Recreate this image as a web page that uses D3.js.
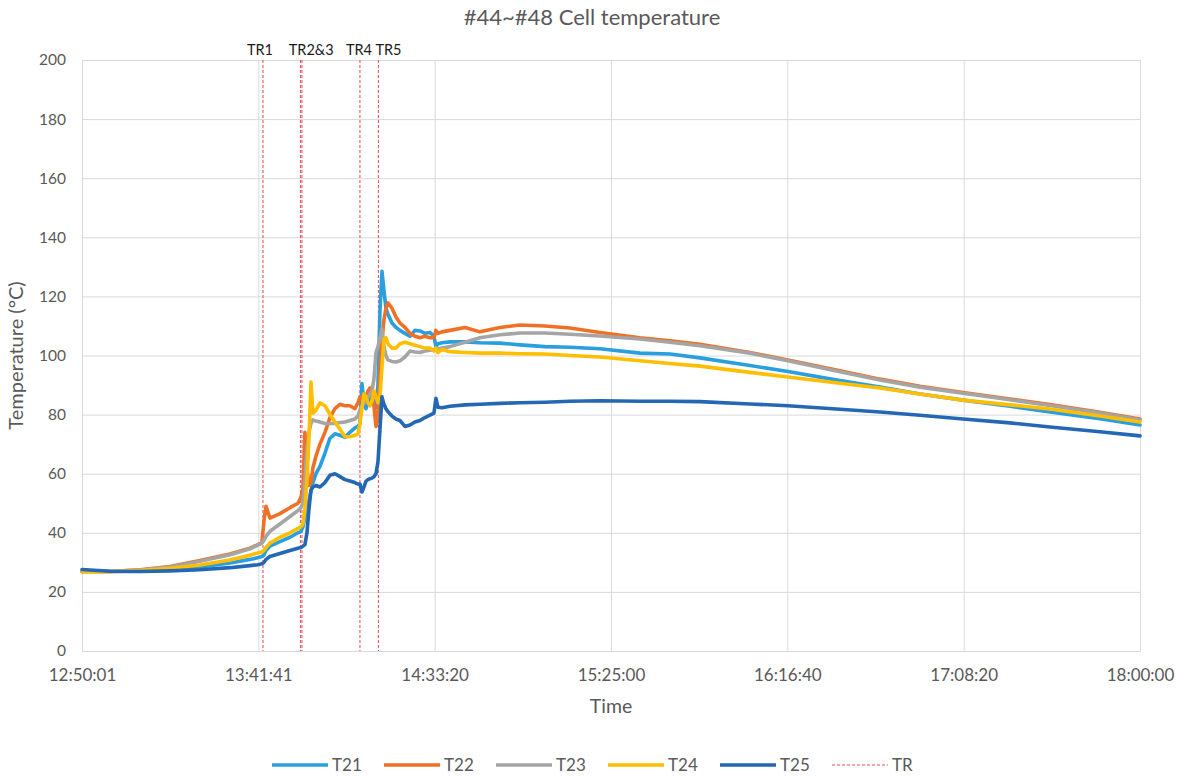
<!DOCTYPE html>
<html>
<head>
<meta charset="utf-8">
<script src="https://cdn.jsdelivr.net/npm/d3@7"></script>
<style>
  html, body { margin: 0; padding: 0; background: #ffffff; }
  svg { display: block; font-family: Lato, "Open Sans", sans-serif; }
</style>
</head>
<body>
<svg id="chart" width="1185" height="776"></svg>
<script>
// Sample times (clock time) shared by all channels
const times = [
  "12:50:01","12:58:12","13:07:00","13:15:47","13:24:34","13:33:22","13:39:13","13:41:34",
  "13:42:44","13:43:20","13:43:55","13:45:05","13:48:01","13:50:57","13:53:17","13:54:10",
  "13:54:45","13:55:20","13:55:56","13:56:31","13:57:06","13:57:41","13:58:34","13:59:44",
  "14:01:12","14:02:40","14:04:08","14:05:36","14:07:04","14:08:31","14:09:59","14:10:52",
  "14:11:27","14:12:02","14:12:38","14:13:13","14:13:48","14:14:23","14:14:58","14:15:33",
  "14:16:09","14:16:44","14:17:19","14:17:54","14:18:29","14:19:04","14:19:39","14:20:50",
  "14:22:00","14:23:10","14:24:38","14:26:06","14:27:34","14:29:02","14:30:30","14:31:58",
  "14:33:08","14:33:43","14:34:18","14:35:29","14:37:49","14:42:13","14:46:37","14:52:28",
  "14:58:20","15:05:40","15:12:59","15:21:46","15:33:30","15:42:17","15:51:04","16:05:43",
  "16:16:51","16:32:06","16:43:49","16:55:32","17:08:08","17:21:54","17:33:37","17:48:16",
  "18:00:00"
];

// Cell temperatures (°C)
const T21 = [
  27, 26.9, 27, 27.6, 28.4, 29.8, 31, 31.6,
  32, 32.5, 34, 35.5, 37, 38.5, 40, 40.5,
  42, 45, 48, 51, 54, 57, 60, 62.5,
  67, 72, 73.5, 73, 72.3, 74, 75.5, 76,
  77, 90.5, 84, 82, 84, 86, 86.5, 84,
  82.5, 90, 115, 128.5, 122, 116, 114, 111,
  109.5, 108.5, 107.5, 106.5, 108.5, 108.3, 107.5, 107.8,
  106.5, 103, 104, 104.3, 104.6, 104.6, 104.3, 104.2,
  103.6, 103, 102.8, 102.3, 100.8, 100.5, 99.2, 96.6,
  94.6, 91.5, 89.3, 87, 84.9, 82.8, 80.9, 78.6,
  76.5
];
const T22 = [
  26.8, 26.9, 27.5, 28.6, 30.6, 32.8, 34.8, 36,
  36.8, 44, 49, 45, 46.5, 48.5, 50, 52,
  55, 74, 62, 56, 57, 62, 66, 70,
  74, 79, 82, 83.5, 83, 83, 82, 84,
  86, 85, 87, 86, 88, 89, 86, 83,
  76, 80, 95, 105, 112, 116, 117.8, 116,
  113, 111, 109.5, 107.5, 106.5, 106, 106.5, 106,
  106, 108.5, 107.5, 108, 108.5, 109.5, 108, 109.5,
  110.3, 110, 109.3, 107.8, 106, 105, 103.8, 101,
  98.5, 94.8, 92, 89.6, 87.5, 85.3, 83.4, 80.8,
  78.5
];
const T23 = [
  27, 27, 27.4, 28.4, 30.4, 32.6, 34.6, 35.8,
  36.5, 37.5, 38.8, 40.5, 43, 45.5, 47.5, 48.5,
  50, 58, 68, 74, 77, 78.2, 77.8, 77.5,
  77, 77, 77, 77.3, 77.5, 78, 78.5, 79.5,
  81.5, 83, 84, 85, 86, 87, 88, 92,
  101, 103, 106, 109, 103, 100, 98.5, 98,
  97.8, 98.2, 99.5, 101.5, 101.2, 101, 101.5, 101.8,
  102, 102, 102.2, 102.5, 103, 104.5, 106, 107,
  107.6, 107.6, 107.2, 106.6, 105.6, 104.5, 103.3, 100.8,
  98.2, 94.5, 91.7, 89.3, 87.2, 85, 83.1, 80.5,
  78.2
];
const T24 = [
  26.8, 26.8, 27.2, 28, 29.1, 30.8, 32.4, 33.2,
  33.5, 34, 35, 36.5, 38.5, 40, 41.5, 42,
  43, 48, 58, 72, 91, 80.5, 81.5, 84,
  83, 80, 77.5, 75, 72.5, 72.5, 73, 73.5,
  77, 82, 87, 86, 84, 83, 84.5, 88,
  86, 84, 86, 96, 105.5, 106, 104, 102.5,
  102.5, 104, 104.5, 104, 103.5, 103, 102.5, 102.5,
  101.5, 102.5, 101, 102, 101.3, 101, 100.8, 100.8,
  100.6, 100.5, 100, 99.5, 98.2, 97.3, 96.4, 94.3,
  92.7, 90.6, 89, 87, 84.9, 83.3, 81.9, 79.5,
  77.5
];
const T25 = [
  27.6, 27, 26.9, 27.1, 27.5, 28.2, 28.9, 29.2,
  29.5, 30, 31, 32, 33, 34, 34.8, 35,
  35.5, 36, 40, 48, 54.5, 55.5, 56, 55.5,
  57, 59.5, 60, 59, 58, 57.5, 57, 56.5,
  56.5, 53.8, 55.5, 57.5, 58, 58.3, 58.5, 59,
  60, 64, 75, 86, 83.5, 82, 81, 79.5,
  78.5, 78, 76, 76.5, 77.5, 78, 79, 79.8,
  80.5, 85.5, 82.5, 82.3, 82.8, 83.3, 83.5, 83.8,
  84, 84.2, 84.5, 84.7, 84.5, 84.5, 84.4, 83.6,
  83, 81.8, 80.9, 79.8, 78.5, 77.2, 75.8, 74.2,
  72.8
];

const seriesNames = ["T21", "T22", "T23", "T24", "T25"];
const seriesValues = [T21, T22, T23, T24, T25];
const seriesColors = ["#2a9fe0", "#f07126", "#a5a5a5", "#ffbf00", "#2468b5"];

// Thermal runaway events
const trLabels = ["TR1", "TR2&3", "TR4", "TR5"];
const trTimes = [["13:43:02"], ["13:54:01", "13:54:28"], ["14:11:27"], ["14:16:52"]];

// Axis ticks
const xTickLabels = ["12:50:01", "13:41:41", "14:33:20", "15:25:00", "16:16:40", "17:08:20", "18:00:00"];
const yTicks = [0, 20, 40, 60, 80, 100, 120, 140, 160, 180, 200];

const toSec = s => { const [h, m, sec] = s.split(":").map(Number); return h * 3600 + m * 60 + sec; };

const svg = d3.select("#chart");
const plot = { left: 82, right: 1140, top: 60, bottom: 651 };

const x = d3.scaleLinear()
  .domain([toSec(xTickLabels[0]), toSec(xTickLabels[xTickLabels.length - 1])])
  .range([plot.left, plot.right]);
const y = d3.scaleLinear().domain([0, 200]).range([plot.bottom, plot.top]);

const textColor = "#595959";
const gridColor = "#d9d9d9";

// Gridlines
svg.append("g")
  .attr("transform", `translate(0,${plot.bottom})`)
  .call(d3.axisBottom(x).tickValues(xTickLabels.map(toSec)).tickSize(-(plot.bottom - plot.top)).tickFormat(""))
  .call(g => g.select(".domain").remove())
  .call(g => g.selectAll("line").attr("stroke", gridColor).attr("stroke-width", 1));
svg.append("g")
  .attr("transform", `translate(${plot.left},0)`)
  .call(d3.axisLeft(y).tickValues(yTicks).tickSize(-(plot.right - plot.left)).tickFormat(""))
  .call(g => g.select(".domain").remove())
  .call(g => g.selectAll("line").attr("stroke", gridColor).attr("stroke-width", 1));

// Tick labels
const xAxis = svg.append("g")
  .attr("transform", `translate(0,${plot.bottom})`)
  .call(d3.axisBottom(x).tickValues(xTickLabels.map(toSec)).tickSize(0).tickPadding(18)
    .tickFormat((d, i) => xTickLabels[i]));
xAxis.select(".domain").attr("stroke", gridColor);
xAxis.selectAll("text").attr("fill", textColor).style("font-size", "17px").style("font-family", "Lato, sans-serif");

const yAxis = svg.append("g")
  .attr("transform", `translate(${plot.left},0)`)
  .call(d3.axisLeft(y).tickValues(yTicks).tickSize(0).tickPadding(16));
yAxis.select(".domain").remove();
yAxis.selectAll("text").attr("fill", textColor).style("font-size", "15.5px").style("font-family", "Lato, sans-serif");

// TR markers
const trG = svg.append("g");
trTimes.forEach(group => {
  group.forEach(t => {
    trG.append("line")
      .attr("x1", x(toSec(t))).attr("x2", x(toSec(t)))
      .attr("y1", plot.top).attr("y2", plot.bottom)
      .attr("stroke", "#f25560").attr("stroke-width", 1.1)
      .attr("stroke-dasharray", "3,2");
  });
});
const trNudge = [-3, 10, -1, 10];
trLabels.forEach((lab, i) => {
  const cx = d3.mean(trTimes[i], t => x(toSec(t))) + trNudge[i];
  svg.append("text")
    .attr("x", cx).attr("y", 55)
    .attr("text-anchor", "middle")
    .attr("fill", "#1a1a1a")
    .style("font-size", "14.5px")
    .text(lab);
});

// Temperature lines
const rows = times.map(toSec);
const line = d3.line().x((d, i) => x(rows[i])).y(d => y(d));
seriesValues.forEach((vals, k) => {
  svg.append("path")
    .datum(vals)
    .attr("d", line)
    .attr("fill", "none")
    .attr("stroke", seriesColors[k])
    .attr("stroke-width", 3.6)
    .attr("stroke-linejoin", "round")
    .attr("stroke-linecap", "round");
});

// Titles
svg.append("text")
  .attr("x", 592).attr("y", 25)
  .attr("text-anchor", "middle")
  .attr("fill", textColor)
  .style("font-size", "22px")
  .text("#44~#48 Cell temperature");
svg.append("text")
  .attr("x", 611).attr("y", 713)
  .attr("text-anchor", "middle")
  .attr("fill", textColor)
  .style("font-size", "19.5px")
  .text("Time");
svg.append("text")
  .attr("transform", `translate(23,${(plot.top + plot.bottom) / 2}) rotate(-90)`)
  .attr("text-anchor", "middle")
  .attr("fill", textColor)
  .style("font-size", "20px")
  .text("Temperature (°C)");

// Legend
const legendItems = seriesNames.map((n, i) => ({ name: n, color: seriesColors[i], dashed: false }))
  .concat([{ name: "TR", color: "#f25560", dashed: true }]);
const lg = svg.append("g").attr("transform", "translate(272,765)");
legendItems.forEach((it, i) => {
  const g = lg.append("g").attr("transform", `translate(${i * 112},0)`);
  g.append("line")
    .attr("x1", 0).attr("x2", 56).attr("y1", 0).attr("y2", 0)
    .attr("stroke", it.color)
    .attr("stroke-width", it.dashed ? 1.1 : 3.6)
    .attr("stroke-dasharray", it.dashed ? "3,2" : null);
  g.append("text")
    .attr("x", 60).attr("y", 6)
    .attr("fill", textColor)
    .style("font-size", "17px")
    .text(it.name);
});
</script>
</body>
</html>
